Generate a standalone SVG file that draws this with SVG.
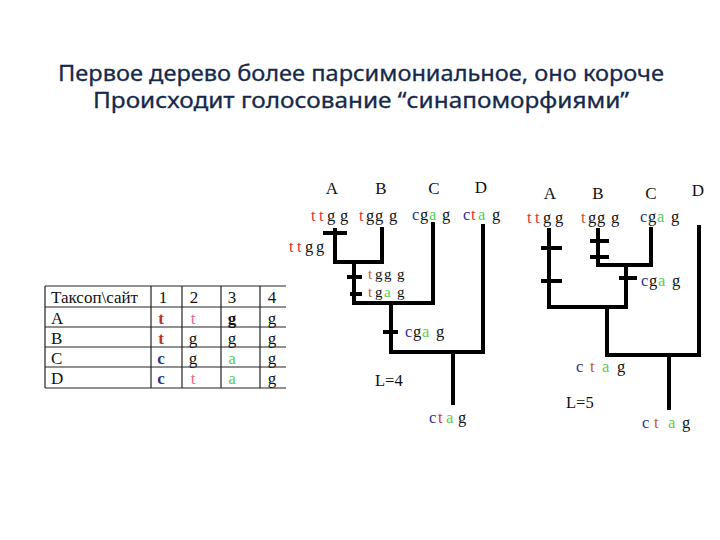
<svg xmlns="http://www.w3.org/2000/svg" width="720" height="540" viewBox="0 0 720 540">
<style>
.title{font-family:"Noto Sans","DejaVu Sans",sans-serif;font-size:22px;fill:#16294a;text-anchor:middle;stroke:#16294a;stroke-width:0.3}
.s{font-family:"Liberation Serif","Times New Roman",serif;fill:#111}
.lab{font-size:17px;text-anchor:middle}
.seq{font-size:16.5px}
.sm{font-size:15px}
.tb{font-size:17px}
.r{fill:#e0343a}
.p{fill:#e86a86}
.b{fill:#2b3590}
.gr{fill:#55d055}
.br{fill:#c03020}
.br2{fill:#c05a3a}
.edge{fill:none;stroke:#000;stroke-width:4;stroke-linecap:square;stroke-linejoin:miter}
.tick{fill:none;stroke:#000;stroke-width:4}
.grid{fill:none;stroke:#222;stroke-width:1.2}
</style>
<rect width="720" height="540" fill="#fff"/>
<g id="title">
<text class="title" x="361" y="81" textLength="606" lengthAdjust="spacingAndGlyphs">Первое дерево более парсимониальное, оно короче</text>
<text class="title" x="361" y="108" textLength="536" lengthAdjust="spacingAndGlyphs">Происходит голосование “синапоморфиями”</text>
</g>
<g id="table">
<path class="grid" d="M45 286H286M45 307H286M45 327H286M45 347H286M45 367H286M45 388H286M45 286V388M151 286V388M182 286V388M221 286V388M260 286V388"/>
<g class="s tb">
<text x="51" y="303">Таксоп\сайт</text>
<text x="163" y="303" text-anchor="middle">1</text>
<text x="194" y="303" text-anchor="middle">2</text>
<text x="232" y="303" text-anchor="middle">3</text>
<text x="272" y="303" text-anchor="middle">4</text>
<text x="51" y="324">A</text>
<text x="51" y="344">B</text>
<text x="51" y="364">C</text>
<text x="51" y="384">D</text>
<text x="161" y="324" text-anchor="middle" class="br" font-weight="bold">t</text>
<text x="161" y="344" text-anchor="middle" class="br" font-weight="bold">t</text>
<text x="161" y="364" text-anchor="middle" class="b" font-weight="bold">c</text>
<text x="161" y="384" text-anchor="middle" class="b" font-weight="bold">c</text>
<text x="193" y="324" text-anchor="middle" class="p">t</text>
<text x="193" y="344" text-anchor="middle">g</text>
<text x="193" y="364" text-anchor="middle">g</text>
<text x="193" y="384" text-anchor="middle" class="p">t</text>
<text x="232" y="324" text-anchor="middle" font-weight="bold">g</text>
<text x="232" y="344" text-anchor="middle">g</text>
<text x="232" y="364" text-anchor="middle" class="gr">a</text>
<text x="232" y="384" text-anchor="middle" class="gr">a</text>
<text x="272" y="324" text-anchor="middle">g</text>
<text x="272" y="344" text-anchor="middle">g</text>
<text x="272" y="364" text-anchor="middle">g</text>
<text x="272" y="384" text-anchor="middle">g</text>
</g>
</g>
<g id="tree1">
<g id="t1-nodes" class="s">
<text class="lab" x="332" y="194">A</text>
<text class="lab" x="381" y="194">B</text>
<text class="lab" x="434" y="194">C</text>
<text class="lab" x="481" y="193">D</text>
<text class="seq" y="221"><tspan x="311" class="r">t</tspan><tspan x="319" class="r">t</tspan><tspan x="327">g</tspan><tspan x="340">g</tspan></text>
<text class="seq" y="221"><tspan x="359" class="r">t</tspan><tspan x="366">g</tspan><tspan x="375">g</tspan><tspan x="389">g</tspan></text>
<text class="seq" y="220"><tspan x="412" class="b">c</tspan><tspan x="420">g</tspan><tspan x="429" class="gr">a</tspan><tspan x="442">g</tspan></text>
<text class="seq" y="220"><tspan x="463" class="b">c</tspan><tspan x="471" class="r">t</tspan><tspan x="478" class="gr">a</tspan><tspan x="492">g</tspan></text>
<text class="seq" y="252"><tspan x="289" class="r">t</tspan><tspan x="297" class="r">t</tspan><tspan x="305">g</tspan><tspan x="316">g</tspan></text>
<text class="sm" y="279"><tspan x="368" class="br2">t</tspan><tspan x="375">g</tspan><tspan x="384">g</tspan><tspan x="397">g</tspan></text>
<text class="sm" y="297"><tspan x="368" class="br2">t</tspan><tspan x="375">g</tspan><tspan x="384" class="gr">a</tspan><tspan x="397">g</tspan></text>
<text class="seq" y="337"><tspan x="405" class="b">c</tspan><tspan x="413">g</tspan><tspan x="422" class="gr">a</tspan><tspan x="436">g</tspan></text>
<text class="seq" y="423"><tspan x="429" class="b">c</tspan><tspan x="438" class="r">t</tspan><tspan x="446" class="gr">a</tspan><tspan x="458">g</tspan></text>
<text class="seq" x="375" y="386" font-size="16">L=4</text>
</g>
<g id="t1-edges">
<path class="edge" d="M335 230V262H382V229"/>
<path class="edge" d="M354 262V303H433V224"/>
<path class="edge" d="M391 303V352H483V226"/>
<path class="edge" d="M453 352V403"/>
<path class="tick" d="M323 233H347M347 277H362M350 294H362M383 332H398"/>
</g>
</g>
<g id="tree2">
<g id="t2-nodes" class="s">
<text class="lab" x="550" y="199">A</text>
<text class="lab" x="598" y="199">B</text>
<text class="lab" x="651" y="199">C</text>
<text class="lab" x="698" y="196">D</text>
<text class="seq" y="223"><tspan x="527" class="r">t</tspan><tspan x="535" class="r">t</tspan><tspan x="543">g</tspan><tspan x="555">g</tspan></text>
<text class="seq" y="223"><tspan x="581" class="br2">t</tspan><tspan x="588">g</tspan><tspan x="597">g</tspan><tspan x="611">g</tspan></text>
<text class="seq" y="222"><tspan x="640" class="b">c</tspan><tspan x="648">g</tspan><tspan x="657" class="gr">a</tspan><tspan x="671">g</tspan></text>
<text class="seq" y="286"><tspan x="641" class="b">c</tspan><tspan x="649">g</tspan><tspan x="658" class="gr">a</tspan><tspan x="672">g</tspan></text>
<text class="seq" y="372"><tspan x="576" class="b">c</tspan><tspan x="590" class="br2">t</tspan><tspan x="602" class="gr">a</tspan><tspan x="617">g</tspan></text>
<text class="seq" y="428"><tspan x="642" class="b">c</tspan><tspan x="654" class="br2">t</tspan><tspan x="668" class="gr">a</tspan><tspan x="682">g</tspan></text>
<text class="seq" x="566" y="408" font-size="16">L=5</text>
</g>
<g id="t2-edges">
<path class="edge" d="M549 230V307H626"/>
<path class="edge" d="M598 230V265H651V229"/>
<path class="edge" d="M626 265V307"/>
<path class="edge" d="M607 307V355H699V227"/>
<path class="edge" d="M669 355V408"/>
<path class="tick" d="M541 248H562M541 281H562M590 241H609M590 257H609M619 278H637"/>
</g>
</g>
</svg>
